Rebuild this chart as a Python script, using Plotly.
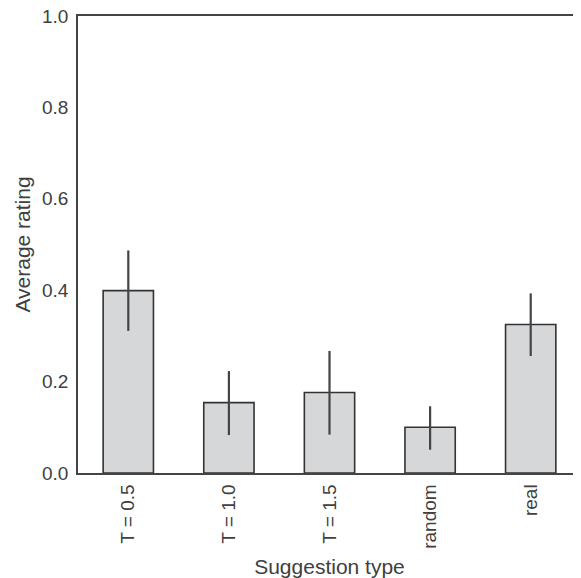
import plotly.graph_objects as go

categories = ["T = 0.5", "T = 1.0", "T = 1.5", "random", "real"]
means = [0.399, 0.154, 0.176, 0.100, 0.325]
ci_upper = [0.487, 0.223, 0.267, 0.146, 0.393]
ci_lower = [0.311, 0.083, 0.084, 0.051, 0.256]

err_plus = [u - m for u, m in zip(ci_upper, means)]
err_minus = [m - l for m, l in zip(means, ci_lower)]

text_color = "#404040"
font_family = "Arial, 'Liberation Sans', sans-serif"

fig = go.Figure()
fig.add_trace(go.Bar(
    x=categories,
    y=means,
    width=0.5,
    marker=dict(color="#d6d7d9", line=dict(color="#333333", width=1.6)),
    error_y=dict(type="data", symmetric=False, array=err_plus, arrayminus=err_minus,
                 color="#444444", thickness=2.2, width=0),
))

# page body has an 8px default margin, so the figure is sized to compensate
fig.update_layout(
    width=573, height=571,
    margin=dict(l=70, r=0, t=8, b=106),
    plot_bgcolor="white", paper_bgcolor="white",
    font=dict(family=font_family, color=text_color, size=19),
    showlegend=False,
)
fig.update_xaxes(
    range=[-0.5, 4.5],
    tickangle=-90, automargin=False,
    showline=True, linecolor="#444444", linewidth=1.6, mirror=True,
    showgrid=False, ticks="", ticklabelstandoff=2,
    tickfont=dict(size=19, color=text_color),
    title=dict(text="Suggestion type", font=dict(size=21, color=text_color), standoff=11),
)
fig.update_yaxes(
    range=[0, 1], automargin=False,
    tickvals=[0, 0.2, 0.4, 0.6, 0.8, 1.0],
    ticktext=["0.0", "0.2", "0.4", "0.6", "0.8", "1.0"],
    ticklabeloverflow="allow",
    showline=True, linecolor="#444444", linewidth=1.6, mirror=False,
    showgrid=False, zeroline=False, ticks="", ticklabelstandoff=4,
    tickfont=dict(size=19, color=text_color),
    title=dict(text="Average rating", font=dict(size=21, color=text_color), standoff=6),
)

fig.write_html("out.html")
